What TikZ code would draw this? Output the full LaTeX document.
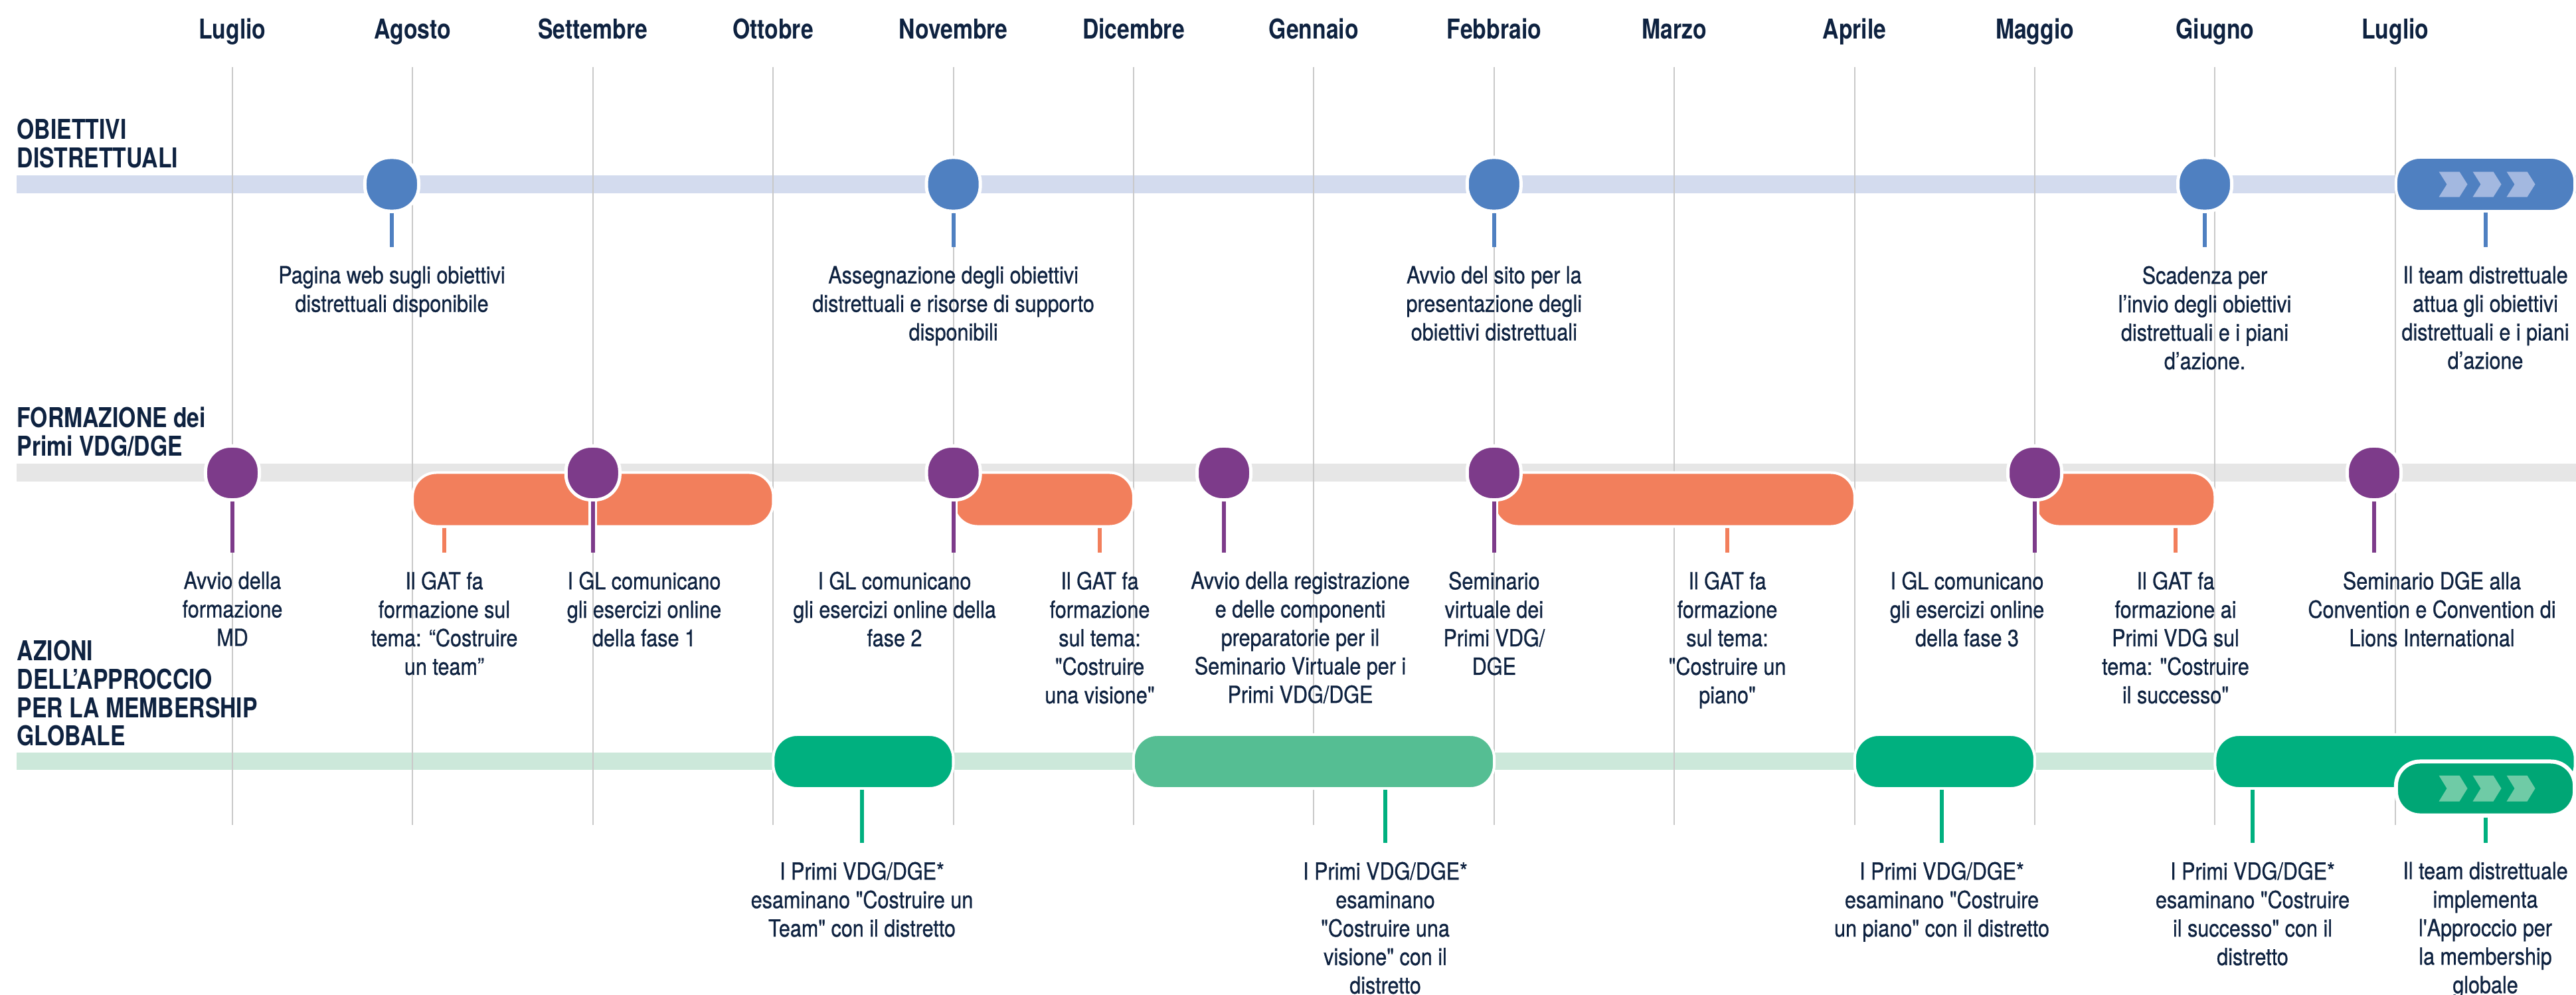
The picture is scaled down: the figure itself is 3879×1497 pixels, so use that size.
\documentclass[tikz,border=0pt]{standalone}
\usepackage{fontspec}
\usepackage{xcolor}
\usetikzlibrary{calc}
\setmainfont{TeX Gyre Heros}[FakeStretch=0.86,FakeBold=0.7,Ligatures=TeXOff]
\newfontfamily\headfont{TeX Gyre Heros}[FakeStretch=0.82,Ligatures=TeXOff]
\definecolor{ink}{HTML}{0E2240}
\definecolor{msblue}{HTML}{4F80C1}
\definecolor{trblue}{HTML}{D3DBEE}
\definecolor{plum}{HTML}{7D3B8A}
\definecolor{coral}{HTML}{F27F5C}
\definecolor{trgrey}{HTML}{E6E6E6}
\definecolor{msgreen}{HTML}{00B07F}
\definecolor{lightgreen}{HTML}{55BE93}
\definecolor{deepgreen}{HTML}{00A675}
\definecolor{trgreen}{HTML}{CCE8DA}
\definecolor{gridgrey}{HTML}{C9C9C9}
\definecolor{chevblue}{HTML}{A3B8E0}
\definecolor{chevgreen}{HTML}{6FCBA6}

\begin{document}
\begin{tikzpicture}[x=0.01cm,y=-0.01cm,
    month/.style={anchor=base,inner sep=0pt,text=ink,font=\headfont\bfseries\fontsize{11.7pt}{12.2pt}\selectfont},
    rowtitle/.style={anchor=north west,align=left,inner sep=0pt,text=ink,font=\headfont\bfseries\fontsize{11.7pt}{12.2pt}\selectfont},
    lbl/.style={anchor=north,align=center,inner sep=0pt,text=ink,font=\fontsize{10.1pt}{12.2pt}\selectfont},
    milestone/.style={rectangle,rounded corners=0.38cm,minimum size=0.81cm,inner sep=0pt,draw=white,line width=0.05cm},
    span/.style={rectangle,rounded corners=0.36cm,minimum height=0.81cm,inner sep=0pt,draw=white,line width=0.04cm},
    stem/.style={line width=0.06cm,shorten >=0.28cm},
    haloed/.style={preaction={draw=white,line width=0.13cm}}]
      \useasboundingbox (0,0) rectangle (3879,1497);
      \fill[white] (0,0) rectangle (3879,1497);

      % tracks
      \fill[trblue] (25,264) rectangle (3879,291);
      \fill[trgrey] (25,698) rectangle (3879,725);
      \fill[trgreen] (25,1133) rectangle (3879,1159);

      % months and grid
      \foreach \m [count=\i from 0] in {Luglio,Agosto,Settembre,Ottobre,Novembre,Dicembre,Gennaio,Febbraio,Marzo,Aprile,Maggio,Giugno,Luglio} {
        \node [month] (mo\i) at ({350+271.4*\i},59) {\m};
        \draw [gridgrey,line width=0.02cm] ({350+271.4*\i},101) -- ({350+271.4*\i},1242);
      }

      \node [rowtitle] (r1) at (25,178) {OBIETTIVI\\DISTRETTUALI};
      \node [rowtitle] (r2) at (25,612) {FORMAZIONE dei\\Primi VDG/DGE};
      \node [rowtitle] (r3) at (25,963) {AZIONI\\DELL’APPROCCIO\\PER LA MEMBERSHIP\\GLOBALE};

      % obiettivi distrettuali
      \node [milestone,fill=msblue] (b1) at (590,277.5) {};
      \node [milestone,fill=msblue] (b2) at (1435.6,277.5) {};
      \node [milestone,fill=msblue] (b3) at (2249.8,277.5) {};
      \node [milestone,fill=msblue] (b4) at (3320,277.5) {};
      \node [span,fill=msblue,minimum width=2.69cm] (b5) at (3742.5,277.5) {};
      \foreach \dx in {-70,-19,32}
        \fill [chevblue] ($(b5.center)+(\dx,-19)$) -- ++(31,0) -- ++(12,19) -- ++(-12,19) -- ++(-31,0) -- ++(12,-19) -- cycle;

      \node [lbl] (tb1) at (590,400) {Pagina web sugli obiettivi\\distrettuali disponibile};
      \node [lbl] (tb2) at (1435.6,400) {Assegnazione degli obiettivi\\distrettuali e risorse di supporto\\disponibili};
      \node [lbl] (tb3) at (2249.8,400) {Avvio del sito per la\\presentazione degli\\obiettivi distrettuali};
      \node [lbl] (tb4) at (3320,400) {Scadenza per\\l’invio degli obiettivi\\distrettuali e i piani\\d’azione.};
      \node [lbl] (tb5) at (3742.5,400) {Il team distrettuale\\attua gli obiettivi\\distrettuali e i piani\\d’azione};

      \foreach \n in {1,...,5}
        \draw [stem,msblue] (b\n.south) -- (b\n.south |- tb\n.north);

      % formazione
      \node [span,fill=coral,minimum width=5.43cm] (o1) at (892.8,752) {};
      \node [span,fill=coral,minimum width=2.71cm] (o2) at (1571.3,752) {};
      \node [span,fill=coral,minimum width=5.43cm] (o3) at (2521.2,752) {};
      \node [span,fill=coral,minimum width=2.71cm] (o4) at (3199.7,752) {};

      \node [milestone,fill=plum] (p1) at (350,712) {};
      \node [milestone,fill=plum] (p2) at (892.8,712) {};
      \node [milestone,fill=plum] (p3) at (1435.6,712) {};
      \node [milestone,fill=plum] (p4) at (1843,712) {};
      \node [milestone,fill=plum] (p5) at (2249.8,712) {};
      \node [milestone,fill=plum] (p6) at (3064,712) {};
      \node [milestone,fill=plum] (p7) at (3575,712) {};

      \node [lbl] (tp1) at (350,860) {Avvio della\\formazione\\MD};
      \node [lbl] (tp2) at (970,860) {I GL comunicano\\gli esercizi online\\della fase 1};
      \node [lbl] (tp3) at (1347,860) {I GL comunicano\\gli esercizi online della\\fase 2};
      \node [lbl] (tp4) at (1958,860) {Avvio della registrazione\\e delle componenti\\preparatorie per il\\Seminario Virtuale per i\\Primi VDG/DGE};
      \node [lbl] (tp5) at (2249.8,860) {Seminario\\virtuale dei\\Primi VDG/\\DGE};
      \node [lbl] (tp6) at (2962,860) {I GL comunicano\\gli esercizi online\\della fase 3};
      \node [lbl] (tp7) at (3662,860) {Seminario DGE alla\\Convention e Convention di\\Lions International};

      \node [lbl] (to1) at (669,860) {Il GAT fa\\formazione sul\\tema: “Costruire\\un team”};
      \node [lbl] (to2) at (1656,860) {Il GAT fa\\formazione\\sul tema:\\"Costruire\\una visione"};
      \node [lbl] (to3) at (2601,860) {Il GAT fa\\formazione\\sul tema:\\"Costruire un\\piano"};
      \node [lbl] (to4) at (3276,860) {Il GAT fa\\formazione ai\\Primi VDG sul\\tema: "Costruire\\il successo"};

      \foreach \n in {1,...,4}
        \draw [stem,coral] (to\n.north |- o\n.south) -- (to\n.north);
      \foreach \n in {1,...,7}
        \draw [stem,haloed,plum] (p\n.south) -- (p\n.south |- tp\n.north);

      % azioni
      \node [span,fill=msgreen,minimum width=2.71cm] (g1) at (1299.9,1146.5) {};
      \node [span,fill=lightgreen,minimum width=5.43cm] (g2) at (1978.4,1146.5) {};
      \node [span,fill=msgreen,minimum width=2.71cm] (g3) at (2928.3,1146.5) {};
      \node [span,fill=msgreen,minimum width=5.42cm] (g4) at (3606.5,1146.5) {};
      \node [span,fill=deepgreen,minimum width=2.69cm,line width=0.06cm] (g5) at (3742.5,1187) {};
      \foreach \dx in {-70,-19,32}
        \fill [chevgreen] ($(g5.center)+(\dx,-19.5)$) -- ++(31,0) -- ++(12,19.5) -- ++(-12,19.5) -- ++(-31,0) -- ++(12,-19.5) -- cycle;

      \node [lbl] (tg1) at (1298,1297) {I Primi VDG/DGE*\\esaminano "Costruire un\\Team" con il distretto};
      \node [lbl] (tg2) at (2086,1297) {I Primi VDG/DGE*\\esaminano\\"Costruire una\\visione" con il\\distretto};
      \node [lbl] (tg3) at (2924,1297) {I Primi VDG/DGE*\\esaminano "Costruire\\un piano" con il distretto};
      \node [lbl] (tg4) at (3392,1297) {I Primi VDG/DGE*\\esaminano "Costruire\\il successo" con il\\distretto};
      \node [lbl] (tg5) at (3742.5,1297) {Il team distrettuale\\implementa\\l'Approccio per\\la membership\\globale};

      \foreach \n in {1,...,5}
        \draw [stem,msgreen] (tg\n.north |- g\n.south) -- (tg\n.north);
\end{tikzpicture}
\end{document}
